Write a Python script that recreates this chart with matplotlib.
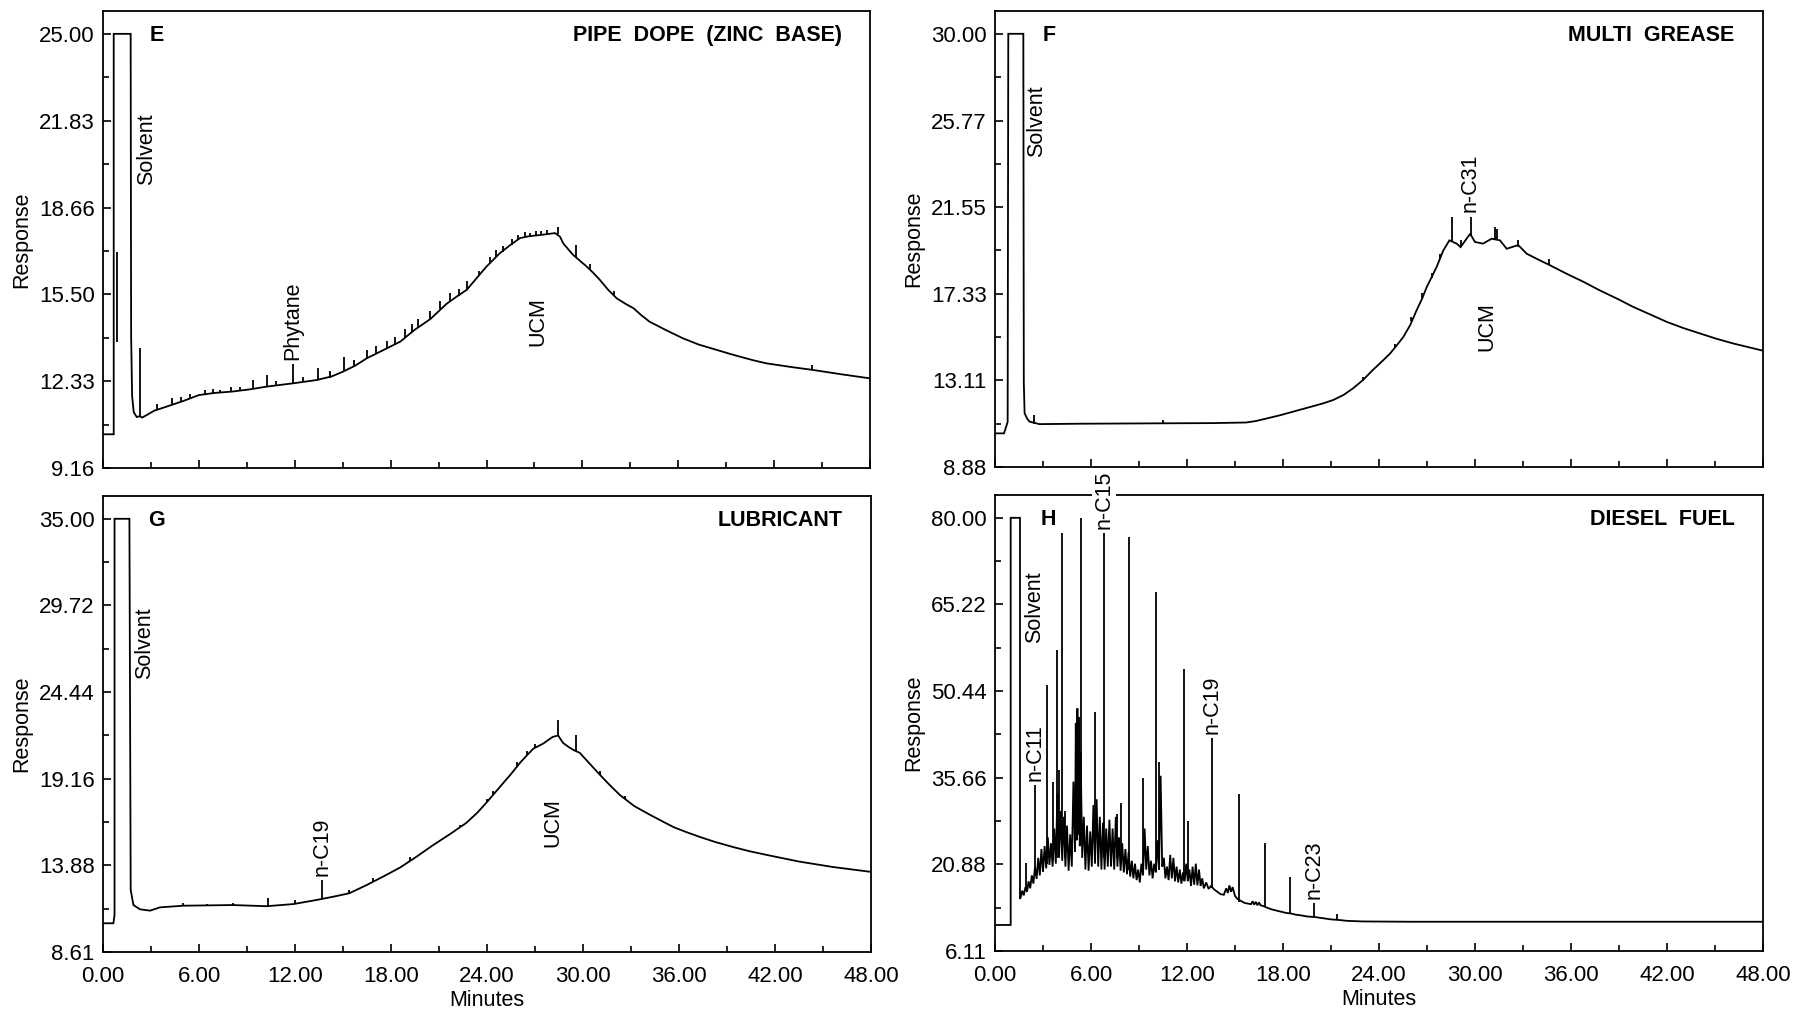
import matplotlib.pyplot as plt
from matplotlib.ticker import FixedLocator, FormatStrFormatter

plt.rcParams['font.family'] = ['Liberation Sans', 'DejaVu Sans']

# ================================================================
# DATA  (time in minutes, detector response)
# ================================================================

X_TICKS = [0, 6, 12, 18, 24, 30, 36, 42, 48]

# --- E : pipe dope (zinc base) ---
E_YTICKS = [9.16, 12.33, 15.50, 18.66, 21.83, 25.00]
E_TIME = [0.00, 0.67, 0.67, 1.73, 1.76, 1.82, 1.92, 2.11, 2.30, 2.45, 2.73, 3.20,
          3.98, 5.00, 6.00, 7.00, 8.10, 9.20, 10.25, 11.90, 13.37, 14.30, 15.00,
          15.80, 16.50, 17.50, 18.60, 19.50, 20.50, 21.50, 22.10, 22.76, 23.40,
          24.00, 24.84, 25.50, 26.10, 26.70, 27.35, 28.29, 28.60, 28.80, 29.10,
          29.43, 29.85, 30.27, 30.70, 31.10, 31.60, 32.15, 32.70, 33.20, 33.70,
          34.20, 35.20, 36.30, 37.30, 38.40, 39.20, 40.00, 40.70, 41.50, 43.00,
          44.40, 46.20, 48.00]
E_RESP = [10.39, 10.39, 25.00, 25.00, 14.00, 11.80, 11.20, 11.02, 11.05, 11.00, 11.09, 11.25,
          11.40, 11.60, 11.82, 11.90, 11.95, 12.03, 12.13, 12.25, 12.37, 12.50, 12.67,
          12.90, 13.16, 13.45, 13.77, 14.20, 14.60, 15.15, 15.40, 15.66, 16.10,
          16.51, 17.00, 17.30, 17.55, 17.62, 17.66, 17.73, 17.60, 17.36, 17.15,
          16.93, 16.72, 16.51, 16.27, 16.02, 15.67, 15.35, 15.15, 14.99, 14.73,
          14.50, 14.20, 13.89, 13.66, 13.47, 13.33, 13.20, 13.09, 12.98, 12.85,
          12.74, 12.58, 12.43]
E_PEAK_TIME = [0.86, 2.32, 3.40, 4.30, 4.90, 5.44, 6.38, 6.90, 7.32, 8.00, 8.57, 9.40,
               10.24, 10.80, 11.90, 12.50, 13.44, 14.20, 15.10, 15.70, 16.50, 17.10,
               17.75, 18.30, 18.90, 19.35, 19.74, 20.47, 21.10, 21.70, 22.30, 22.76,
               23.50, 24.20, 24.60, 25.05, 25.60, 26.00, 26.40, 26.70, 27.10, 27.40,
               27.80, 28.49, 29.63, 30.50, 32.00, 44.40]
E_PEAK_BASE = [13.76, 11.05, 11.30, 11.45, 11.55, 11.68, 11.84, 11.88, 11.90, 11.94, 11.99, 12.05,
               12.13, 12.18, 12.25, 12.30, 12.38, 12.45, 12.70, 12.88, 13.16, 13.35,
               13.55, 13.70, 13.90, 14.12, 14.30, 14.58, 14.95, 15.20, 15.45, 15.66,
               16.15, 16.65, 16.85, 17.05, 17.30, 17.52, 17.58, 17.60, 17.62, 17.66,
               17.68, 17.70, 16.85, 16.40, 15.45, 12.74]
E_PEAK_TOP = [17.04, 13.54, 11.50, 11.70, 11.75, 11.85, 12.00, 12.05, 12.02, 12.12, 12.10, 12.37,
              12.55, 12.35, 12.94, 12.49, 12.80, 12.70, 13.20, 13.10, 13.47, 13.62,
              13.80, 13.95, 14.22, 14.40, 14.58, 14.88, 15.25, 15.55, 15.70, 16.00,
              16.35, 16.85, 17.10, 17.25, 17.50, 17.65, 17.78, 17.75, 17.82, 17.80,
              17.85, 17.97, 17.30, 16.60, 15.60, 12.90]

# --- F : multi grease ---
F_YTICKS = [8.88, 13.11, 17.33, 21.55, 25.77, 30.00]
F_TIME = [0.00, 0.56, 0.72, 0.79, 0.83, 1.77, 1.80, 1.85, 2.00, 2.14, 2.77, 5.27,
          10.48, 13.60, 15.70, 16.30, 17.00, 17.80, 18.50, 19.20, 19.90, 20.50,
          21.15, 21.80, 22.40, 23.00, 23.60, 24.15, 24.69, 25.10, 25.52, 25.95,
          26.35, 26.70, 26.98, 27.30, 27.60, 28.02, 28.40, 28.85, 29.10, 29.40,
          29.70, 30.00, 30.50, 31.04, 31.56, 31.98, 32.30, 32.70, 33.23, 34.06,
          34.60, 35.73, 36.80, 37.80, 38.90, 39.90, 41.00, 42.00, 43.00, 44.06,
          45.10, 46.15, 48.00]
F_RESP = [10.52, 10.52, 10.90, 11.08, 30.00, 30.00, 13.00, 11.50, 11.25, 11.10, 10.97, 10.99,
          11.01, 11.02, 11.05, 11.12, 11.25, 11.40, 11.55, 11.70, 11.85, 11.98,
          12.15, 12.40, 12.73, 13.12, 13.60, 14.00, 14.41, 14.80, 15.22, 15.80,
          16.52, 17.10, 17.65, 18.15, 18.63, 19.44, 19.93, 19.77, 19.60, 19.93,
          20.25, 19.85, 19.77, 20.01, 19.93, 19.52, 19.60, 19.70, 19.28, 18.95,
          18.75, 18.30, 17.90, 17.49, 17.08, 16.68, 16.30, 15.95, 15.66, 15.39,
          15.13, 14.90, 14.55]
F_PEAK_TIME = [2.45, 10.48, 23.00, 25.00, 26.00, 26.70, 27.30, 27.80, 28.54, 29.10,
               29.72, 31.25, 31.35, 32.70, 34.60]
F_PEAK_BASE = [11.00, 11.01, 13.10, 14.70, 16.00, 17.10, 18.10, 19.00, 19.90, 19.60,
               20.15, 20.00, 20.00, 19.60, 18.75]
F_PEAK_TOP = [11.41, 11.15, 13.25, 14.90, 16.20, 17.35, 18.35, 19.25, 21.09, 19.95,
              21.09, 20.58, 20.50, 19.95, 19.00]

# --- G : lubricant ---
G_YTICKS = [8.61, 13.88, 19.16, 24.44, 29.72, 35.00]
G_TIME = [0.00, 0.65, 0.72, 0.72, 1.65, 1.73, 1.90, 2.31, 2.94, 3.56, 5.02, 8.10,
          10.23, 11.90, 13.35, 14.40, 15.40, 16.48, 17.50, 18.56, 19.60, 20.60,
          21.70, 22.70, 23.40, 24.00, 24.80, 25.50, 26.06, 26.50, 26.90, 27.50,
          28.10, 28.45, 28.75, 29.10, 29.40, 29.80, 30.40, 31.06, 31.70, 32.30,
          33.20, 34.20, 35.00, 35.70, 36.50, 37.30, 38.30, 39.40, 40.40, 41.50,
          43.50, 45.60, 48.00]
G_RESP = [10.36, 10.36, 10.86, 35.00, 35.00, 12.39, 11.47, 11.21, 11.13, 11.33, 11.43, 11.47,
          11.40, 11.53, 11.78, 11.98, 12.19, 12.69, 13.20, 13.75, 14.42, 15.10,
          15.80, 16.47, 17.10, 17.75, 18.66, 19.45, 20.13, 20.60, 21.00, 21.30,
          21.71, 21.80, 21.35, 21.10, 20.92, 20.74, 20.10, 19.40, 18.75, 18.18,
          17.50, 16.96, 16.55, 16.20, 15.90, 15.62, 15.30, 15.00, 14.75, 14.52,
          14.12, 13.79, 13.49]
G_PEAK_TIME = [5.00, 6.50, 8.10, 10.30, 12.00, 13.67, 15.40, 16.90, 19.20, 22.30,
               24.00, 24.40, 25.90, 26.50, 27.00, 28.45, 29.56, 31.06, 32.60]
G_PEAK_BASE = [11.43, 11.45, 11.47, 11.40, 11.55, 11.82, 12.19, 12.85, 14.15, 16.20,
               17.75, 18.20, 19.95, 20.60, 21.05, 21.80, 20.85, 19.40, 17.95]
G_PEAK_TOP = [11.58, 11.55, 11.62, 11.88, 11.75, 12.99, 12.40, 13.10, 14.42, 16.35,
              17.95, 18.40, 20.20, 20.85, 21.30, 22.75, 21.83, 19.65, 18.10]

# --- H : diesel fuel ---
H_YTICKS = [6.11, 20.88, 35.66, 50.44, 65.22, 80.00]
H_TIME = [0.00, 0.98, 0.98, 1.56, 1.56,
          1.60, 1.70, 1.80, 1.90, 2.00, 2.10, 2.20, 2.30, 2.40, 2.50, 2.60, 2.70,
          2.80, 2.90, 3.00, 3.10, 3.20, 3.30, 3.40, 3.50, 3.60, 3.70, 3.80, 3.90,
          4.00, 4.10, 4.20, 4.30, 4.40, 4.50, 4.60, 4.70, 4.80, 4.90, 5.00, 5.05,
          5.10, 5.15, 5.20, 5.25, 5.30, 5.35, 5.45, 5.55, 5.65, 5.75, 5.85, 5.95,
          6.05, 6.15, 6.25, 6.35, 6.45, 6.55, 6.65, 6.75, 6.85, 6.95, 7.05, 7.15,
          7.25, 7.35, 7.45, 7.55, 7.65, 7.75, 7.85, 7.95, 8.05, 8.15, 8.25, 8.35,
          8.45, 8.55, 8.65, 8.75, 8.85, 8.95, 9.05, 9.15, 9.25, 9.35, 9.45, 9.55,
          9.65, 9.75, 9.85, 9.95, 10.05, 10.15, 10.25, 10.35, 10.45, 10.55, 10.65,
          10.75, 10.85, 10.95, 11.05, 11.15, 11.25, 11.35, 11.45, 11.55, 11.65,
          11.75, 11.85, 11.95, 12.05, 12.15, 12.25, 12.35, 12.45, 12.55, 12.65,
          12.75, 12.85, 12.95, 13.05, 13.20, 13.35, 13.50, 13.70, 13.90, 14.10,
          14.30, 14.45, 14.55, 14.65, 14.75, 14.85, 15.00, 15.15, 15.40, 15.60,
          15.80, 16.00, 16.10, 16.20, 16.30, 16.40, 16.50, 16.60, 16.75, 17.00,
          17.30, 17.60, 17.90, 18.20, 18.50, 18.80, 19.10, 19.50, 20.00, 20.50,
          21.00, 21.50, 22.00, 23.00, 26.00, 48.00]
H_RESP = [10.55, 10.55, 80.00, 80.00, 15.00,
          15.2, 16.4, 15.6, 17.0, 16.2, 18.0, 16.8, 19.0, 17.6, 20.5, 18.4, 22.0,
          19.0, 23.5, 19.6, 24.0, 20.2, 25.5, 20.8, 24.5, 20.5, 27.0, 21.0, 33.0,
          22.0, 30.0, 21.5, 29.0, 20.5, 27.5, 19.8, 26.0, 20.5, 35.0, 23.0, 45.0,
          25.0, 47.5, 26.0, 46.0, 24.0, 40.0, 22.0, 29.0, 20.0, 27.5, 19.8, 26.5,
          20.5, 31.0, 21.0, 32.0, 20.5, 29.0, 20.0, 28.0, 20.0, 27.0, 20.5, 28.5,
          20.5, 27.0, 20.0, 29.0, 20.5, 25.5, 19.8, 24.5, 19.5, 23.5, 19.2, 23.0,
          18.8, 21.5, 18.5, 21.0, 18.2, 20.0, 17.8, 21.0, 19.0, 27.0, 20.0, 24.0,
          19.0, 21.5, 18.5, 21.0, 19.5, 25.0, 20.0, 36.0, 20.5, 22.0, 18.5,
          20.5, 18.2, 22.5, 18.5, 22.0, 18.0, 20.5, 17.8, 20.0, 17.6,
          19.5, 18.0, 21.0, 18.0, 20.0, 17.2, 20.5, 17.4, 21.0, 17.3,
          20.0, 17.2, 18.5, 16.8, 17.8, 16.7, 17.2, 16.6, 16.2, 15.8,
          15.7, 16.8, 16.0, 17.3, 16.2, 17.0, 15.5, 15.0, 14.6, 14.3,
          14.2, 14.1, 14.6, 14.0, 14.5, 13.9, 14.4, 13.9, 13.8, 13.5,
          13.2, 13.0, 12.8, 12.6, 12.5, 12.3, 12.2, 12.0, 11.9, 11.7,
          11.5, 11.4, 11.25, 11.15, 11.10, 11.10]
H_PEAK_TIME = [1.94, 2.50, 3.23, 3.65, 3.85, 3.98, 4.19, 4.40, 5.08, 5.40, 6.25, 6.81,
               7.60, 7.85, 8.38, 9.27, 10.06, 10.27, 11.81, 12.08, 13.58, 15.25,
               16.88, 18.44, 19.96, 21.40]
H_PEAK_BASE = [16.8, 19.5, 21.0, 21.5, 22.0, 23.0, 23.0, 22.0, 26.0, 25.0, 23.0, 22.0,
               22.0, 21.0, 20.0, 19.0, 19.5, 20.0, 18.0, 18.0, 16.8, 14.5,
               13.6, 12.5, 11.9, 11.4]
H_PEAK_TOP = [21.1, 34.4, 51.5, 35.0, 57.5, 37.0, 77.4, 30.0, 36.0, 80.0, 46.9, 77.4,
              29.5, 31.4, 76.8, 35.6, 67.4, 38.4, 54.2, 28.2, 42.4, 32.9,
              24.6, 18.8, 14.25, 12.5]


# ================================================================
# HELPERS
# ================================================================

LW = 1.3
FS_TICK = 16
FS = 15.5

def draw_panel(ax, time, resp, pk_t, pk_base, pk_top, yticks, letter, title, show_x):
    ax.plot(time, resp, color="black", linewidth=LW, solid_joinstyle="miter")
    ax.vlines(pk_t, pk_base, pk_top, color="black", linewidth=LW)

    ymin, ymax = yticks[0], yticks[-1]
    ax.set_xlim(0, 48)
    ax.set_ylim(ymin, ymin + (ymax - ymin) / 0.95)

    ax.xaxis.set_major_locator(FixedLocator(X_TICKS))
    ax.xaxis.set_minor_locator(FixedLocator([t + 3 for t in X_TICKS[:-1]]))
    ax.yaxis.set_major_locator(FixedLocator(yticks))
    ax.yaxis.set_minor_locator(FixedLocator(
        [(a + b) / 2 for a, b in zip(yticks[:-1], yticks[1:])]))
    ax.xaxis.set_major_formatter(FormatStrFormatter("%.2f"))
    ax.yaxis.set_major_formatter(FormatStrFormatter("%.2f"))

    ax.tick_params(which="both", direction="in", width=1.2, labelsize=FS_TICK,
                   top=False, right=False)
    ax.tick_params(which="major", length=6)
    ax.tick_params(axis="y", which="major", pad=6)
    ax.tick_params(axis="x", which="major", pad=10)
    ax.tick_params(which="minor", length=4)
    if not show_x:
        ax.tick_params(axis="x", labelbottom=False)
    else:
        ax.set_xlabel("Minutes", fontsize=FS, labelpad=2)
    ax.set_ylabel("Response", fontsize=FS, labelpad=5)

    for sp in ax.spines.values():
        sp.set_linewidth(1.3)

    ax.text(0.07, 0.947, letter, transform=ax.transAxes, fontsize=FS,
            fontweight="bold", ha="center", va="center")
    ax.text(0.963, 0.947, title, transform=ax.transAxes, fontsize=FS,
            fontweight="bold", ha="right", va="center")


def rot_label(ax, x, y, text, va="center"):
    ax.text(x, y, text, rotation=90, fontsize=FS, ha="center", va=va)


def peak_label(ax, t, top, text, boxed=False):
    kw = {}
    if boxed:
        kw = dict(bbox=dict(facecolor="white", edgecolor="none", pad=1.0),
                  annotation_clip=False, zorder=10)
    ax.annotate(text, xy=(t, top), xytext=(0, 3), textcoords="offset points",
                rotation=90, fontsize=FS, ha="center", va="bottom", **kw)


# ================================================================
# FIGURE
# ================================================================

fig = plt.figure(figsize=(17.93, 10.11), dpi=100)
ax_e = fig.add_axes([0.05745, 0.53709, 0.42777, 0.45203])
ax_f = fig.add_axes([0.55494, 0.53808, 0.42833, 0.45104])
ax_g = fig.add_axes([0.05745, 0.05836, 0.42833, 0.45104])
ax_h = fig.add_axes([0.55494, 0.05935, 0.42833, 0.45104])

draw_panel(ax_e, E_TIME, E_RESP, E_PEAK_TIME, E_PEAK_BASE, E_PEAK_TOP,
           E_YTICKS, "E", "PIPE  DOPE  (ZINC  BASE)", False)
rot_label(ax_e, 2.75, 22.1, "Solvent", va="top")
i = E_PEAK_TIME.index(11.90)
peak_label(ax_e, E_PEAK_TIME[i], E_PEAK_TOP[i], "Phytane")
rot_label(ax_e, 27.2, 14.5, "UCM")

draw_panel(ax_f, F_TIME, F_RESP, F_PEAK_TIME, F_PEAK_BASE, F_PEAK_TOP,
           F_YTICKS, "F", "MULTI  GREASE", False)
rot_label(ax_f, 2.6, 27.5, "Solvent", va="top")
i = F_PEAK_TIME.index(29.72)
peak_label(ax_f, F_PEAK_TIME[i], F_PEAK_TOP[i], "n-C31")
rot_label(ax_f, 30.75, 15.74, "UCM")

draw_panel(ax_g, G_TIME, G_RESP, G_PEAK_TIME, G_PEAK_BASE, G_PEAK_TOP,
           G_YTICKS, "G", "LUBRICANT", True)
rot_label(ax_g, 2.6, 29.6, "Solvent", va="top")
i = G_PEAK_TIME.index(13.67)
peak_label(ax_g, G_PEAK_TIME[i], G_PEAK_TOP[i], "n-C19")
rot_label(ax_g, 28.1, 16.5, "UCM")

draw_panel(ax_h, H_TIME, H_RESP, H_PEAK_TIME, H_PEAK_BASE, H_PEAK_TOP,
           H_YTICKS, "H", "DIESEL  FUEL", True)
rot_label(ax_h, 2.5, 70.8, "Solvent", va="top")
for t, name in [(2.50, "n-C11"), (6.81, "n-C15"), (13.58, "n-C19"), (19.96, "n-C23")]:
    i = H_PEAK_TIME.index(t)
    peak_label(ax_h, H_PEAK_TIME[i], H_PEAK_TOP[i], name, boxed=(name == "n-C15"))

fig.savefig("out.png", dpi=100)
